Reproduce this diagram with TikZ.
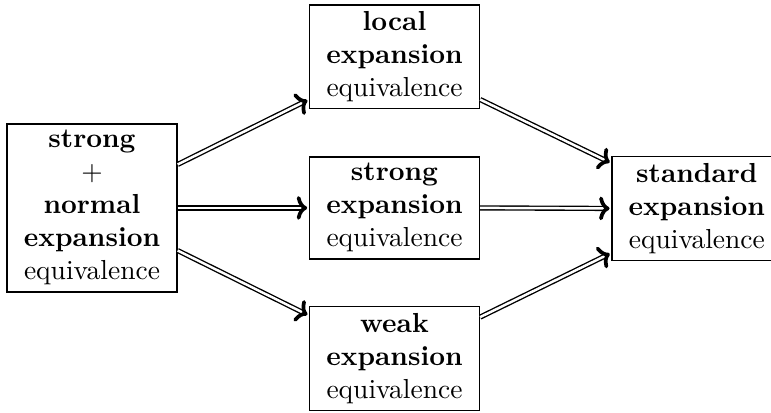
\documentclass[tikz,border=0pt]{standalone}
\usetikzlibrary{arrows.meta}
\begin{document}
\begin{tikzpicture}[x=1pt,y=1pt,
  eqbox/.style={draw, line width=0.5pt, align=center, minimum width=61.8pt,
    inner xsep=2pt, inner ysep=2.4pt},
  impl/.style={double, double distance=0.9pt, line width=0.5pt, shorten >=0.6pt,
    -{Computer Modern Rightarrow[length=3.8pt, width=8.6pt, line width=1.35pt]}}]
\useasboundingbox (0,0) rectangle (280.36,-149.82);
\node[eqbox] (sn) at (33.45,-75.6) {\textbf{strong}\\$+$\\\textbf{normal}\\\textbf{expansion}\\equivalence};
\node[eqbox] (loc) at (143.45,-20.7) {\textbf{local}\\\textbf{expansion}\\equivalence};
\node[eqbox] (str) at (143.45,-75.6) {\textbf{strong}\\\textbf{expansion}\\equivalence};
\node[eqbox] (wk) at (143.45,-130.4) {\textbf{weak}\\\textbf{expansion}\\equivalence};
\node[eqbox] (std) at (253.4,-75.8) {\textbf{standard}\\\textbf{expansion}\\equivalence};
% implications out of the combined equivalence
\draw[impl] ([yshift=15.8pt]sn.east) -- ([yshift=3.6pt]loc.south west);
\draw[impl] (sn.east) -- (str.west);
\draw[impl] ([yshift=-15.5pt]sn.east) -- ([yshift=-3.4pt]wk.north west);
% implications into standard expansion equivalence
\draw[impl] ([yshift=3.6pt]loc.south east) -- ([yshift=-2.6pt]std.north west);
\draw[impl] (str.east) -- (std.west);
\draw[impl] ([yshift=-4pt]wk.north east) -- ([yshift=2.9pt]std.south west);
\end{tikzpicture}
\end{document}
